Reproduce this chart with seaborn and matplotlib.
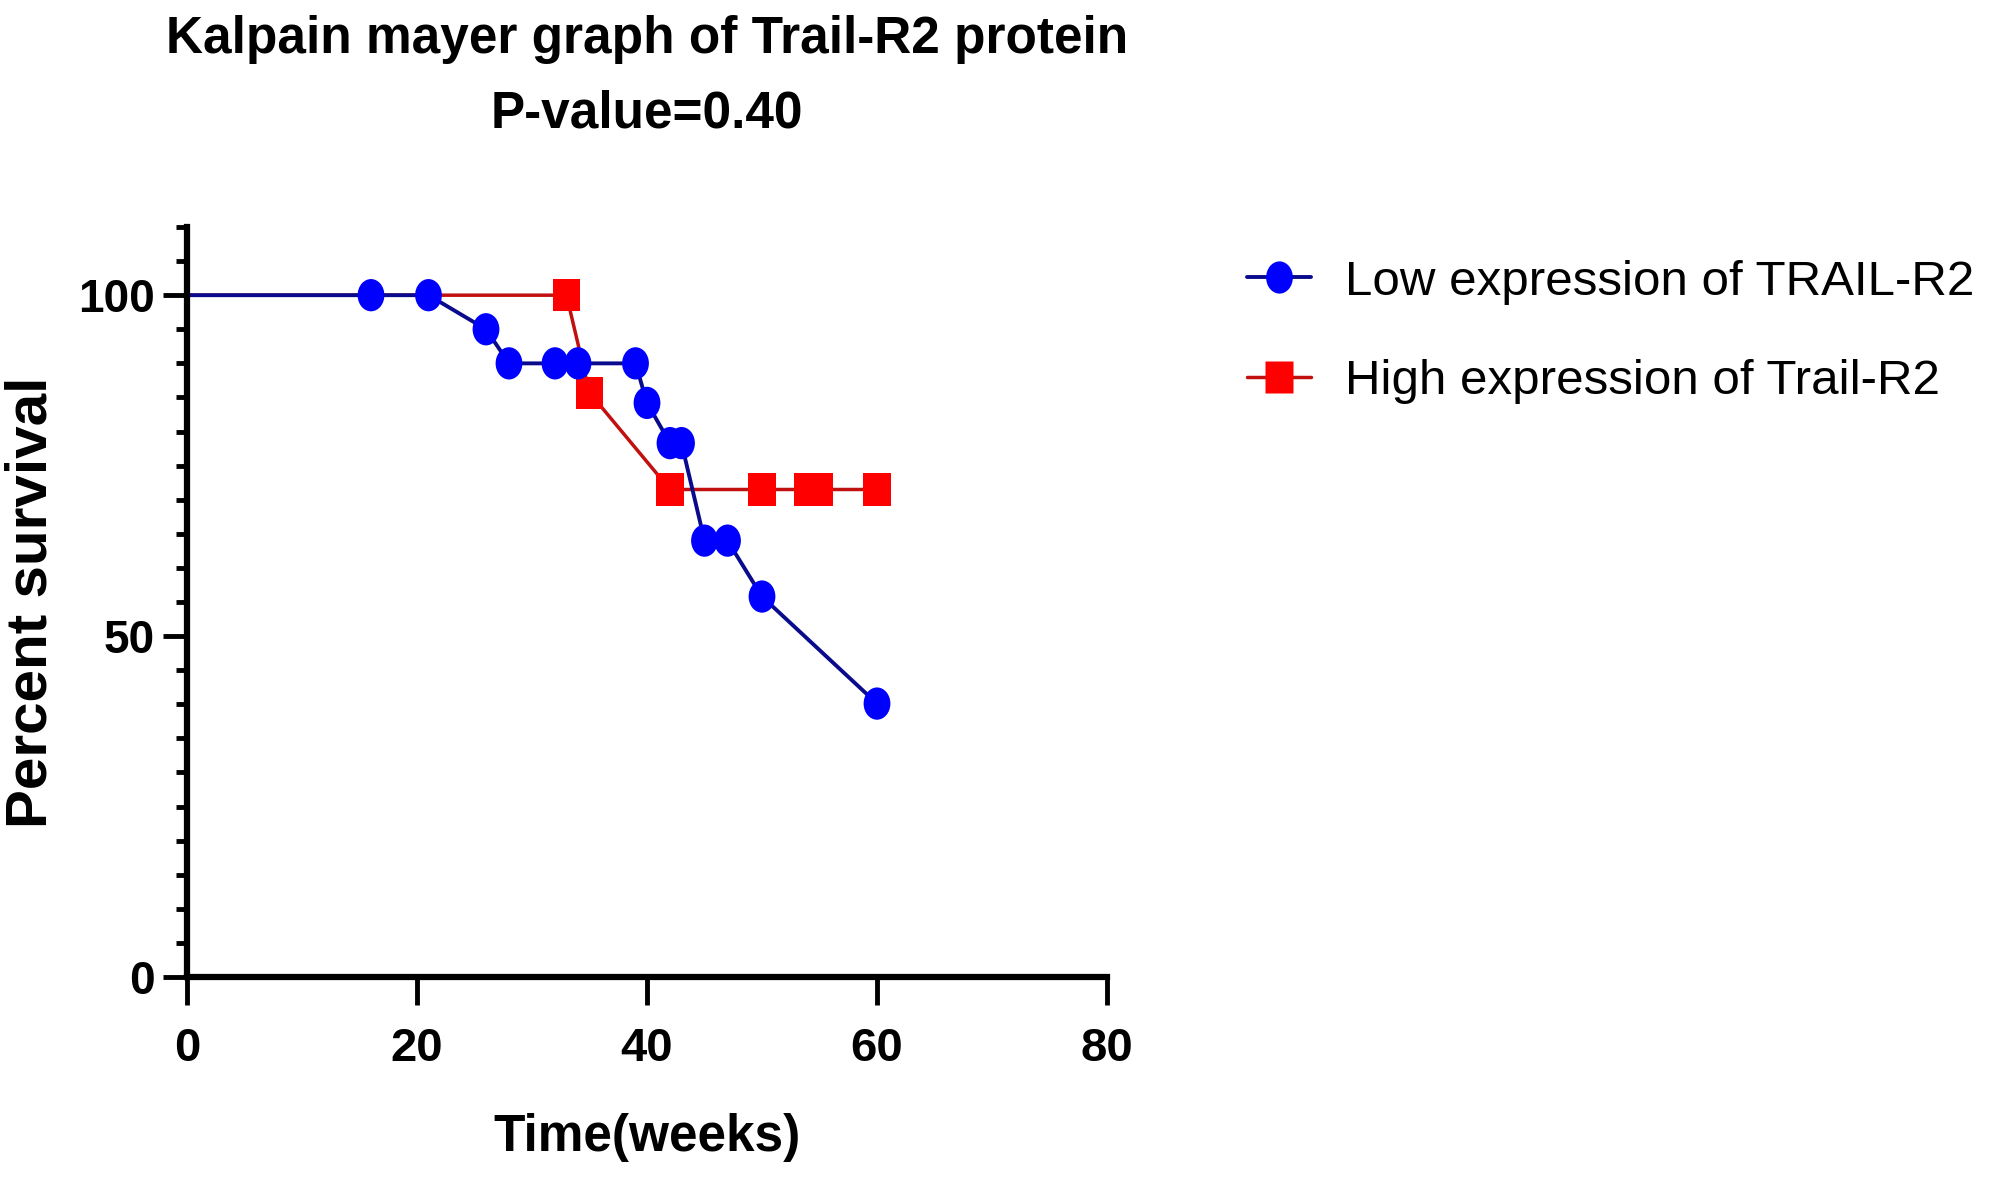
import matplotlib
matplotlib.use('Agg')
import matplotlib.pyplot as plt
import seaborn as sns
import pandas as pd
import numpy as np
from matplotlib.path import Path
from matplotlib.transforms import Affine2D
from matplotlib.lines import Line2D
from matplotlib.ticker import MultipleLocator

# data
low_weeks = [16, 21, 26, 28, 32, 34, 39, 40, 42, 43, 45, 47, 50, 60]
low_surv = [100, 100, 95, 90, 90, 90, 90, 84.2, 78.3, 78.3, 64.0, 64.0, 55.8, 40.1]
high_weeks = [33, 35, 42, 50, 54, 55, 60]
high_surv = [100, 85.7, 71.5, 71.5, 71.5, 71.5, 71.5]
start_week = 0
start_surv = 100

low_label = 'Low expression of TRAIL-R2'
high_label = 'High expression of Trail-R2'
title_lines = ['Kalpain mayer graph of Trail-R2 protein', 'P-value=0.40']

sns.set_theme(style='ticks', rc={'text.color': 'black', 'axes.labelcolor': 'black',
                                 'xtick.color': 'black', 'ytick.color': 'black'})
plt.rcParams['font.family'] = ['Liberation Sans', 'DejaVu Sans']

# curves start at (0, 100) without a symbol
low_line = pd.DataFrame({'weeks': [start_week] + low_weeks, 'surv': [start_surv] + low_surv})
high_line = pd.DataFrame({'weeks': [start_week] + high_weeks, 'surv': [start_surv] + high_surv})
low_pts = pd.DataFrame({'weeks': low_weeks, 'surv': low_surv})
high_pts = pd.DataFrame({'weeks': high_weeks, 'surv': high_surv})

# markers are slightly taller than wide in the original
ellipse = Path.unit_circle().transformed(Affine2D().scale(0.83, 1.0))
rect = Path([(-0.42, -0.5), (0.42, -0.5), (0.42, 0.5), (-0.42, 0.5), (-0.42, -0.5)],
            [Path.MOVETO, Path.LINETO, Path.LINETO, Path.LINETO, Path.CLOSEPOLY])

fig = plt.figure(figsize=(20, 11.91), dpi=100)
ax = fig.add_axes([0.0935, 0.1797, 0.46, 0.6297])

line_blue, dot_blue = '#0a0a8c', '#0000ff'
line_red, dot_red = '#c01010', '#ff0000'

sns.lineplot(data=high_line, x='weeks', y='surv', ax=ax, color=line_red, lw=2.5, sort=False)
sns.lineplot(data=low_line, x='weeks', y='surv', ax=ax, color=line_blue, lw=2.8, sort=False)
sns.scatterplot(data=high_pts, x='weeks', y='surv', ax=ax, marker=rect, s=540,
                color=dot_red, edgecolor='none', zorder=3)
sns.scatterplot(data=low_pts, x='weeks', y='surv', ax=ax, marker=ellipse, s=540,
                color=dot_blue, edgecolor='none', zorder=4)

ax.set_xlim(0, 80)
ax.set_ylim(0, 110)
ax.set_xticks([0, 20, 40, 60, 80])
ax.set_yticks([0, 50, 100])
ax.yaxis.set_minor_locator(MultipleLocator(5))
for side in ['top', 'right']:
    ax.spines[side].set_visible(False)
for side in ['left', 'bottom']:
    ax.spines[side].set_linewidth(4.5)
    ax.spines[side].set_color('black')
ax.tick_params(axis='x', which='major', length=20, width=3.5, pad=16, labelsize=34)
ax.tick_params(axis='y', which='major', length=17, width=3.5, pad=6, labelsize=33)
ax.tick_params(axis='y', which='minor', length=8, width=3.5)
for lab in ax.get_xticklabels() + ax.get_yticklabels():
    lab.set_fontweight('bold')

ax.set_xlabel('Time(weeks)', fontsize=37, fontweight='bold', labelpad=30)
ax.set_ylabel('Percent survival', fontsize=42, fontweight='bold', labelpad=14)

fig.text(0.3235, 0.967, title_lines[0], ha='center', va='center', fontsize=37, fontweight='bold')
fig.text(0.3235, 0.904, title_lines[1], ha='center', va='center', fontsize=37, fontweight='bold')

handles = [
    Line2D([], [], color=line_blue, lw=2.8, marker=ellipse, markersize=23.2,
           markerfacecolor=dot_blue, markeredgecolor='none'),
    Line2D([], [], color=line_red, lw=2.5, marker=rect, markersize=23.2,
           markerfacecolor=dot_red, markeredgecolor='none'),
]
ax.legend(handles, [low_label, high_label], loc='center left', bbox_to_anchor=(0.6135, 0.7215),
          bbox_transform=fig.transFigure, frameon=False, fontsize=35.5,
          handlelength=1.3, handletextpad=0.7, labelspacing=1.1, borderaxespad=0)

fig.savefig('out.png', dpi=100)
